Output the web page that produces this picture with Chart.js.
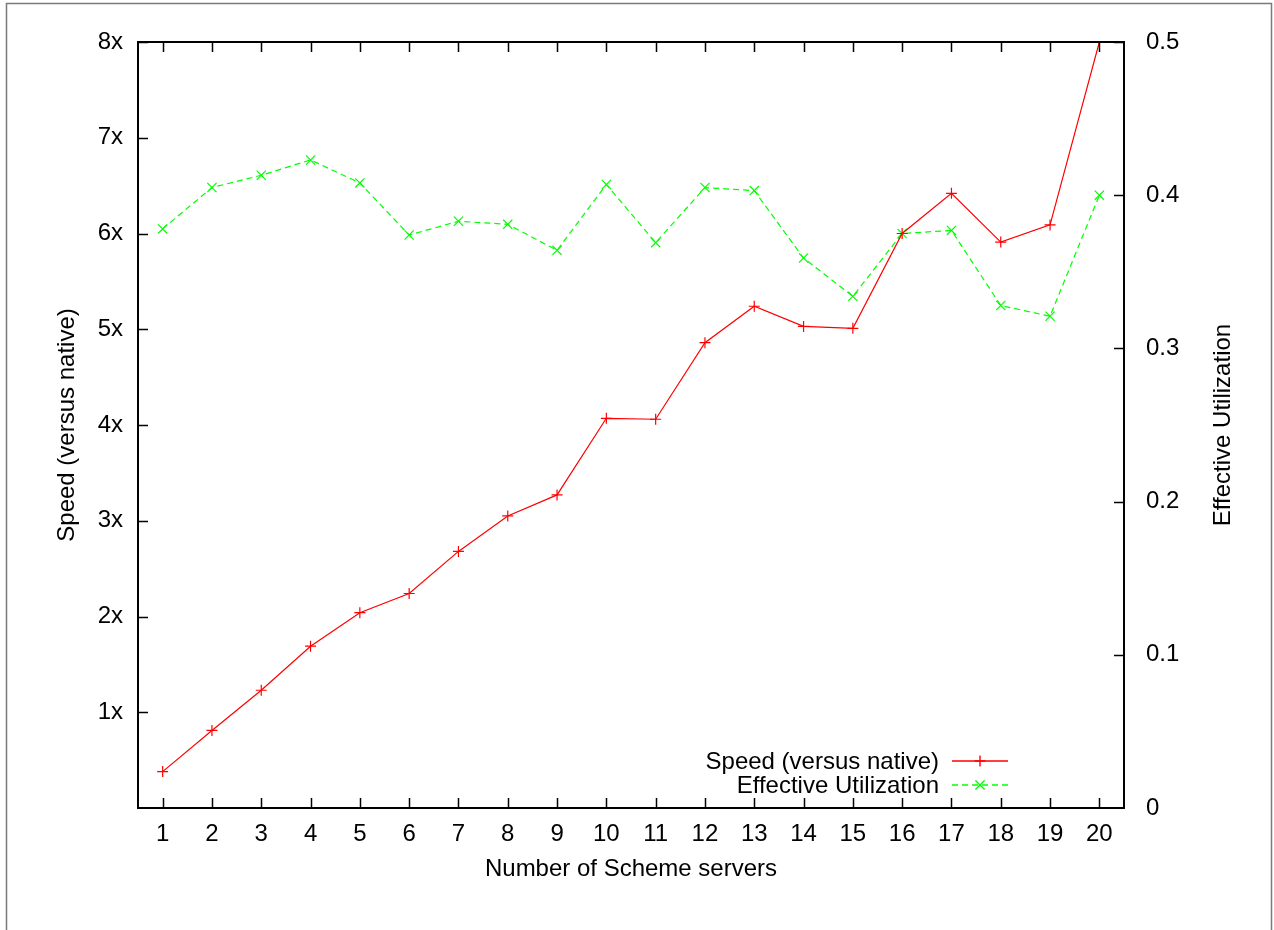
<!DOCTYPE html>
<html>
<head>
<meta charset="utf-8">
<script src="https://cdn.jsdelivr.net/npm/chart.js@4/dist/chart.umd.min.js"></script>
<style>
  body { margin: 0; background: #fff; }
  canvas { display: block; }
</style>
</head>
<body>
<canvas id="chart" width="1274" height="930"></canvas>
<script>
const servers = [1, 2, 3, 4, 5, 6, 7, 8, 9, 10, 11, 12, 13, 14, 15, 16, 17, 18, 19, 20];
const speed = [0.38, 0.81, 1.23, 1.69, 2.04, 2.24, 2.68, 3.05, 3.27, 4.07,
  4.06, 4.86, 5.24, 5.03, 5.01, 6.0, 6.42, 5.91, 6.09, 8.0];
const utilization = [0.378, 0.405, 0.413, 0.423, 0.408, 0.374, 0.383, 0.381, 0.364, 0.407,
  0.369, 0.405, 0.403, 0.359, 0.334, 0.375, 0.377, 0.328, 0.321, 0.400];
const speedTicks = [1, 2, 3, 4, 5, 6, 7, 8];
const utilTicks = [0.1, 0.2, 0.3, 0.4, 0.5];
const seriesColors = ['#ff0000', '#00ff00'];

const FONT = '"Liberation Sans", Arial, sans-serif';
Chart.defaults.font.family = FONT;
Chart.defaults.font.size = 24;
Chart.defaults.color = '#000';

// gnuplot look: outer page box, inward ticks, right title, legend in the corner
const gnuplotFrame = {
  id: 'gnuplotFrame',
  afterDraw(chart) {
    const { ctx, chartArea: a, scales } = chart;
    ctx.save();

    ctx.strokeStyle = '#7a7a7a';
    ctx.lineWidth = 1.5;
    ctx.beginPath();
    ctx.moveTo(6.5, 930);
    ctx.lineTo(6.5, 3.5);
    ctx.lineTo(1271.5, 3.5);
    ctx.lineTo(1271.5, 930);
    ctx.stroke();

    ctx.strokeStyle = '#000';
    ctx.lineWidth = 2;
    ctx.strokeRect(a.left, a.top, a.right - a.left, a.bottom - a.top);

    ctx.lineWidth = 1.5;
    ctx.beginPath();
    scales.x.ticks.forEach((t, i) => {
      const px = Math.round(scales.x.getPixelForTick(i)) + 0.5;
      ctx.moveTo(px, a.bottom); ctx.lineTo(px, a.bottom - 10);
      ctx.moveTo(px, a.top); ctx.lineTo(px, a.top + 10);
    });
    speedTicks.forEach(v => {
      const py = Math.round(scales.y.getPixelForValue(v)) + 0.5;
      ctx.moveTo(a.left, py); ctx.lineTo(a.left + 10, py);
    });
    utilTicks.forEach(v => {
      const py = Math.round(scales.y1.getPixelForValue(v)) + 0.5;
      ctx.moveTo(a.right, py); ctx.lineTo(a.right - 10, py);
    });
    ctx.stroke();

    // right axis title reads bottom-to-top like the left one
    ctx.fillStyle = '#000';
    ctx.font = '24px ' + FONT;
    ctx.textAlign = 'center';
    ctx.textBaseline = 'middle';
    ctx.translate(1223, (a.top + a.bottom) / 2);
    ctx.rotate(-Math.PI / 2);
    ctx.fillText('Effective Utilization', 0, 0);
    ctx.setTransform(1, 0, 0, 1, 0, 0);

    // legend
    ctx.textAlign = 'right';
    chart.data.datasets.forEach((ds, i) => {
      const y = 761 + i * 24;
      ctx.fillStyle = '#000';
      ctx.fillText(ds.label, 939, y + 1);
      ctx.strokeStyle = seriesColors[i];
      ctx.fillStyle = seriesColors[i];
      ctx.lineWidth = 1.4;
      ctx.setLineDash(ds.borderDash || []);
      ctx.beginPath();
      ctx.moveTo(952, y); ctx.lineTo(1008, y);
      ctx.stroke();
      ctx.setLineDash([]);
      Chart.helpers.drawPoint(ctx, {
        pointStyle: ds.pointStyle, radius: ds.pointRadius, rotation: 0, borderWidth: 1.2
      }, 980, y);
    });
    ctx.restore();
  }
};

new Chart(document.getElementById('chart'), {
  type: 'line',
  data: {
    labels: servers,
    datasets: [{
      label: 'Speed (versus native)',
      data: speed,
      yAxisID: 'y',
      borderColor: seriesColors[0],
      backgroundColor: seriesColors[0],
      borderWidth: 1.2,
      pointStyle: 'cross',
      pointRadius: 5.5,
      pointBorderWidth: 1.2,
      tension: 0,
    }, {
      label: 'Effective Utilization',
      data: utilization,
      yAxisID: 'y1',
      borderColor: seriesColors[1],
      backgroundColor: seriesColors[1],
      borderWidth: 1.2,
      borderDash: [6, 4],
      pointStyle: 'crossRot',
      pointRadius: 6.5,
      pointBorderWidth: 1.2,
      tension: 0,
    }],
  },
  options: {
    responsive: false,
    animation: false,
    layout: { padding: { top: 42, left: 0, right: 0, bottom: 0 } },
    plugins: {
      legend: { display: false },
      tooltip: { enabled: false },
    },
    scales: {
      x: {
        type: 'category',
        offset: true,
        grid: { display: false, drawTicks: false },
        border: { display: false },
        ticks: { padding: 12, maxRotation: 0, autoSkip: false },
        title: {
          display: true,
          text: 'Number of Scheme servers',
          font: { size: 24, lineHeight: 1.2 },
          padding: { top: 0, bottom: 46 },
        },
        afterFit(scale) { scale.height = 122; },
      },
      y: {
        position: 'left',
        min: 0,
        max: 8,
        grid: { display: false, drawTicks: false },
        border: { display: false },
        ticks: {
          stepSize: 1,
          padding: 15,
          callback: v => (v === 0 ? '' : v + 'x'),
        },
        title: {
          display: true,
          text: 'Speed (versus native)',
          font: { size: 24, lineHeight: 1.2 },
          padding: { top: 53, bottom: 0 },
        },
        afterFit(scale) { scale.width = 138; },
      },
      y1: {
        position: 'right',
        min: 0,
        max: 0.5,
        grid: { display: false, drawTicks: false },
        border: { display: false },
        ticks: {
          stepSize: 0.1,
          padding: 22,
          callback: v => (v === 0 ? '0' : String(+v.toFixed(1))),
        },
        afterFit(scale) { scale.width = 150; },
      },
    },
  },
  plugins: [gnuplotFrame],
});
</script>
</body>
</html>
